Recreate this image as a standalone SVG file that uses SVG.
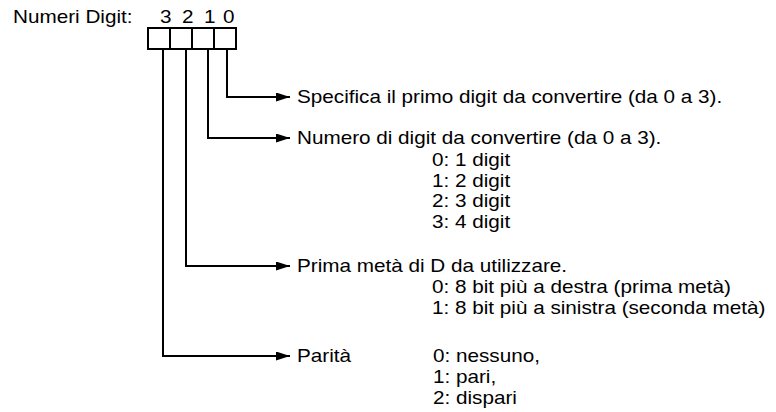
<svg xmlns="http://www.w3.org/2000/svg" width="776" height="412" viewBox="0 0 776 412">
<defs>
<style>
text{font-family:"Liberation Sans",Arial,sans-serif;font-size:18px;fill:#000}
.c{fill:none;stroke:#000;stroke-width:2}
.b{fill:#fff;stroke:#000;stroke-width:2}
</style>
<marker id="ah" viewBox="0 0 14 9" refX="14" refY="4.5" markerWidth="14" markerHeight="9" markerUnits="userSpaceOnUse" orient="auto">
<path d="M0,0L14,4.5L0,9z" fill="#000"/>
</marker>
</defs>
<rect width="776" height="412" fill="#fff"/>
<g id="label"><text transform="translate(13,23) scale(1.15,1)">Numeri Digit:</text></g>
<g id="digits">
<text transform="translate(160,23) scale(1.15,1)">3</text>
<text transform="translate(182,23) scale(1.15,1)">2</text>
<text transform="translate(204,23) scale(1.15,1)">1</text>
<text transform="translate(223,23) scale(1.15,1)">0</text>
<rect class="b" x="148" y="28" width="22" height="21"/>
<rect class="b" x="170" y="28" width="22" height="21"/>
<rect class="b" x="192" y="28" width="22" height="21"/>
<rect class="b" x="214" y="28" width="22" height="21"/>
</g>
<g id="connectors">
<path class="c" d="M227,49V97H290" marker-end="url(#ah)"/>
<path class="c" d="M208,49V138H290" marker-end="url(#ah)"/>
<path class="c" d="M186,49V266H290" marker-end="url(#ah)"/>
<path class="c" d="M163,49V356H290" marker-end="url(#ah)"/>
</g>
<g id="n0"><text transform="translate(297,103) scale(1.15,1)">Specifica il primo digit da convertire (da 0 a 3).</text></g>
<g id="n1">
<text transform="translate(297,144) scale(1.15,1)">Numero di digit da convertire (da 0 a 3).</text>
<text transform="translate(432,166) scale(1.15,1)">0: 1 digit</text>
<text transform="translate(432,187) scale(1.15,1)">1: 2 digit</text>
<text transform="translate(432,207) scale(1.15,1)">2: 3 digit</text>
<text transform="translate(432,228) scale(1.15,1)">3: 4 digit</text>
</g>
<g id="n2">
<text transform="translate(297,272) scale(1.15,1)">Prima metà di D da utilizzare.</text>
<text transform="translate(432,293) scale(1.15,1)">0: 8 bit più a destra (prima metà)</text>
<text transform="translate(432,314) scale(1.15,1)">1: 8 bit più a sinistra (seconda metà)</text>
</g>
<g id="n3">
<text transform="translate(297,362) scale(1.15,1)">Parità</text>
<text transform="translate(433,362) scale(1.15,1)">0: nessuno,</text>
<text transform="translate(433,383) scale(1.15,1)">1: pari,</text>
<text transform="translate(433,404) scale(1.15,1)">2: dispari</text>
</g>
</svg>
